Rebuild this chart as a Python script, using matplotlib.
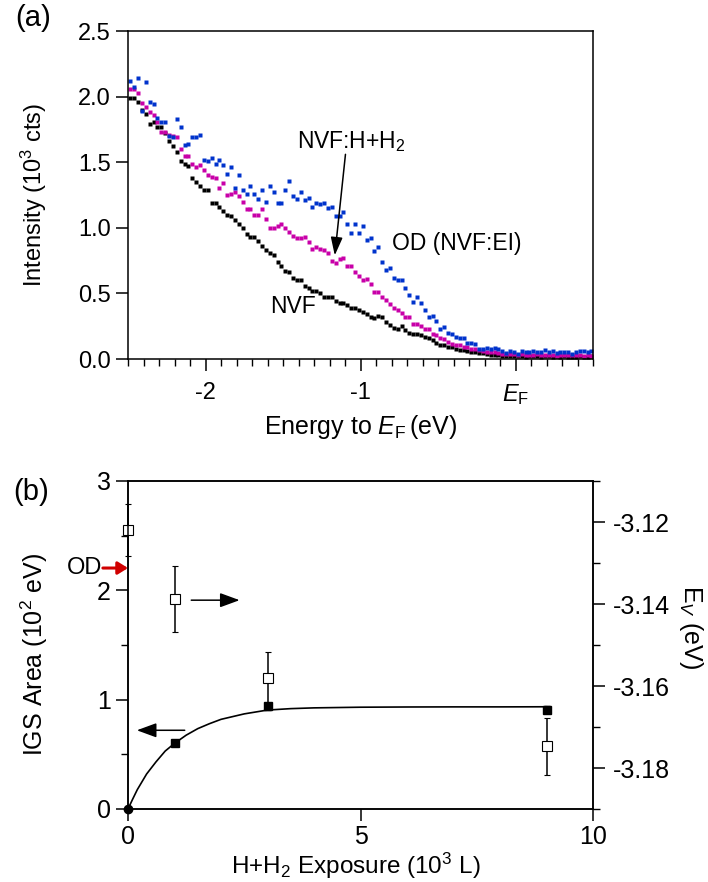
import matplotlib
matplotlib.use("Agg")
import matplotlib.pyplot as plt
from matplotlib.ticker import MultipleLocator

# ---- panel (a): photoemission spectra, energy relative to E_F (eV), intensity (10^3 cts)
energy = [
    -2.485, -2.460, -2.435, -2.410, -2.385, -2.360, -2.335, -2.310, -2.285, -2.260,
    -2.235, -2.210, -2.185, -2.160, -2.135, -2.110, -2.085, -2.060, -2.035, -2.010,
    -1.985, -1.960, -1.935, -1.910, -1.885, -1.860, -1.835, -1.810, -1.785, -1.760,
    -1.735, -1.710, -1.685, -1.660, -1.635, -1.610, -1.585, -1.560, -1.535, -1.510,
    -1.485, -1.460, -1.435, -1.410, -1.385, -1.360, -1.335, -1.310, -1.285, -1.260,
    -1.235, -1.210, -1.185, -1.160, -1.135, -1.110, -1.085, -1.060, -1.035, -1.010,
    -0.985, -0.960, -0.935, -0.910, -0.885, -0.860, -0.835, -0.810, -0.785, -0.760,
    -0.735, -0.710, -0.685, -0.660, -0.635, -0.610, -0.585, -0.560, -0.535, -0.510,
    -0.485, -0.460, -0.435, -0.410, -0.385, -0.360, -0.335, -0.310, -0.285, -0.260,
    -0.235, -0.210, -0.185, -0.160, -0.135, -0.110, -0.085, -0.060, -0.035, -0.010,
    0.015, 0.040, 0.065, 0.090, 0.115, 0.140, 0.165, 0.190, 0.215, 0.240,
    0.265, 0.290, 0.315, 0.340, 0.365, 0.390, 0.415, 0.440, 0.465, 0.490,
]

nvf = [
    1.99, 1.99, 1.96, 1.90, 1.87, 1.79, 1.81, 1.77, 1.77, 1.72,
    1.66, 1.62, 1.58, 1.51, 1.49, 1.47, 1.38, 1.35, 1.32, 1.29,
    1.29, 1.19, 1.19, 1.16, 1.13, 1.10, 1.09, 1.06, 1.03, 1.00,
    0.95, 0.93, 0.93, 0.90, 0.86, 0.83, 0.81, 0.79, 0.74, 0.71,
    0.67, 0.66, 0.62, 0.60, 0.60, 0.56, 0.54, 0.52, 0.52, 0.50,
    0.47, 0.47, 0.47, 0.44, 0.43, 0.43, 0.41, 0.39, 0.39, 0.37,
    0.36, 0.34, 0.32, 0.31, 0.33, 0.32, 0.28, 0.26, 0.24, 0.23,
    0.25, 0.22, 0.20, 0.19, 0.19, 0.18, 0.17, 0.16, 0.145, 0.12,
    0.11, 0.105, 0.094, 0.089, 0.075, 0.065, 0.072, 0.062, 0.055, 0.05,
    0.043, 0.043, 0.037, 0.033, 0.031, 0.03, 0.02, 0.024, 0.025, 0.022,
    0.02, 0.025, 0.018, 0.022, 0.02, 0.023, 0.018, 0.02, 0.022, 0.017,
    0.02, 0.015, 0.02, 0.018, 0.012, 0.015, 0.02, 0.015, 0.018, 0.02,
]

nvf_h = [
    2.06, 2.06, 2.03, 1.95, 1.92, 1.88, 1.86, 1.81, 1.73, 1.73,
    1.71, 1.70, 1.69, 1.60, 1.55, 1.55, 1.49, 1.46, 1.48, 1.44,
    1.40, 1.39, 1.38, 1.30, 1.34, 1.25, 1.26, 1.27, 1.24, 1.20,
    1.14, 1.14, 1.10, 1.10, 1.14, 1.07, 1.00, 0.995, 1.01, 1.03,
    1.00, 0.97, 0.94, 0.92, 0.92, 0.93, 0.89, 0.84, 0.85, 0.84,
    0.83, 0.81, 0.75, 0.73, 0.76, 0.77, 0.71, 0.71, 0.66, 0.63,
    0.60, 0.61, 0.57, 0.51, 0.51, 0.47, 0.45, 0.42, 0.39, 0.37,
    0.35, 0.32, 0.32, 0.27, 0.27, 0.25, 0.23, 0.23, 0.19, 0.18,
    0.16, 0.15, 0.13, 0.115, 0.107, 0.105, 0.094, 0.089, 0.08, 0.073,
    0.069, 0.061, 0.056, 0.053, 0.05, 0.043, 0.04, 0.04, 0.035, 0.038,
    0.03, 0.035, 0.028, 0.032, 0.03, 0.035, 0.028, 0.03, 0.033, 0.03,
    0.025, 0.03, 0.028, 0.032, 0.03, 0.028, 0.03, 0.025, 0.028, 0.02,
]

od = [
    2.12, 2.07, 2.14, 1.89, 2.11, 1.96, 1.94, 1.84, 1.81, 1.81,
    1.70, 1.69, 1.83, 1.77, 1.63, 1.64, 1.69, 1.69, 1.71, 1.52,
    1.51, 1.53, 1.49, 1.52, 1.48, 1.41, 1.46, 1.30, 1.40, 1.29,
    1.26, 1.32, 1.26, 1.22, 1.29, 1.20, 1.32, 1.27, 1.19, 1.19,
    1.29, 1.36, 1.24, 1.22, 1.27, 1.21, 1.23, 1.16, 1.19, 1.18,
    1.19, 1.15, 1.155, 1.09, 1.09, 1.12, 1.03, 0.96, 1.03, 0.96,
    1.01, 0.91, 0.92, 0.82, 0.85, 0.74, 0.68, 0.69, 0.62, 0.60,
    0.60, 0.54, 0.49, 0.435, 0.47, 0.43, 0.37, 0.32, 0.33, 0.29,
    0.23, 0.247, 0.20, 0.19, 0.165, 0.16, 0.163, 0.12, 0.125, 0.115,
    0.08, 0.08, 0.084, 0.08, 0.084, 0.08, 0.064, 0.048, 0.064, 0.053,
    0.035, 0.06, 0.055, 0.05, 0.06, 0.055, 0.05, 0.065, 0.055, 0.06,
    0.045, 0.055, 0.055, 0.05, 0.04, 0.05, 0.06, 0.06, 0.055, 0.06,
]

# ---- panel (b): IGS area (left axis) and E_V (right axis) vs exposure (10^3 L)
exposure = [0, 1, 3, 9]
igs_area = [0.0, 0.60, 0.94, 0.91]
igs_err = [0.0, 0.02, 0.03, 0.03]
ev = [-3.1219, -3.1388, -3.1580, -3.1747]
ev_err = [0.0064, 0.0080, 0.0063, 0.0069]

# saturating fit curve
fit_x = [0, 0.1, 0.2, 0.4, 0.6, 0.8, 1.0, 1.25, 1.5, 1.75, 2.0, 2.5, 3.0, 3.5, 4.0, 5.0, 6.0, 7.0, 8.0, 9.0]
fit_y = [0, 0.09, 0.177, 0.32, 0.43, 0.53, 0.60, 0.675, 0.735, 0.78, 0.82, 0.87, 0.905, 0.918, 0.925, 0.931, 0.933, 0.934, 0.934, 0.935]

OD_LEVEL = 2.204

plt.rcParams['font.family'] = ['Liberation Sans', 'DejaVu Sans']
plt.rcParams['mathtext.fontset'] = 'custom'
plt.rcParams['mathtext.rm'] = 'Liberation Sans'
plt.rcParams['mathtext.it'] = 'Liberation Sans:italic'
plt.rcParams['mathtext.bf'] = 'Liberation Sans:bold'
plt.rcParams['axes.linewidth'] = 1.1

FS_A = 17
FS_B = 18
FS_TXT = 16.5

fig = plt.figure(figsize=(7.08, 8.82), dpi=100)
W, H = 708.0, 882.0
ax_a = fig.add_axes([128 / W, 1 - 359 / H, 465 / W, 328 / H])
ax_b = fig.add_axes([128 / W, 1 - 809 / H, 465 / W, 328 / H])

# ---------------- (a)
for vals, col in [(nvf, 'black'), (nvf_h, '#c800a8'), (od, '#0033cc')]:
    ax_a.plot(energy, vals, ls='none', marker='s', ms=3.2, mfc=col, mec='none')

ax_a.set_xlim(-2.5, 0.5)
ax_a.set_ylim(0, 2.5)
ax_a.set_xticks([-2, -1, 0])
ax_a.set_xticklabels(['-2', '-1', r'$\mathit{E}_\mathrm{F}$'])
ax_a.xaxis.set_minor_locator(MultipleLocator(0.1))
ax_a.set_yticks([0, 0.5, 1.0, 1.5, 2.0, 2.5])
ax_a.set_yticklabels(['0.0', '0.5', '1.0', '1.5', '2.0', '2.5'])
ax_a.tick_params(which='major', direction='out', length=8.5, width=1.1, labelsize=FS_A, pad=4)
ax_a.tick_params(axis='x', which='major', pad=8)
ax_a.tick_params(which='minor', direction='out', length=5, width=1.0)
ax_a.tick_params(axis='y', which='minor', left=False)
ax_a.set_xlabel(r'Energy to $\mathit{E}_\mathrm{F}\,$(eV)', fontsize=FS_A + 1)
ax_a.set_ylabel(r'Intensity (10$^3$ cts)', fontsize=FS_A)
ax_a.yaxis.set_label_coords(-0.17, 0.5)
ax_a.xaxis.set_label_coords(0.5, -0.165)

ax_a.text(-1.435, 0.40, 'NVF', ha='center', va='center', fontsize=FS_TXT)
ax_a.text(-0.38, 0.88, 'OD (NVF:EI)', ha='center', va='center', fontsize=FS_TXT)
ax_a.text(-1.06, 1.66, r'NVF:H+H$_2$', ha='center', va='center', fontsize=FS_TXT)
ax_a.annotate('', xy=(-1.166, 0.79), xytext=(-1.097, 1.56),
              arrowprops=dict(arrowstyle='-|>,head_length=0.55,head_width=0.18',
                              mutation_scale=20, color='black', lw=1.1, shrinkA=0, shrinkB=0))

# ---------------- (b)
ax_b.plot(fit_x, fit_y, color='black', lw=1.2)
ax_b.errorbar(exposure[1:], igs_area[1:], yerr=igs_err[1:], fmt='s', ms=6, color='black',
              capsize=2.5, elinewidth=1.0, zorder=3)
ax_b.plot(exposure[:1], igs_area[:1], 'o', ms=6, color='black', clip_on=False, zorder=4)

ax_b.set_xlim(0, 10)
ax_b.set_ylim(0, 3)
ax_b.set_xticks([0, 5, 10])
ax_b.set_yticks([0, 1, 2, 3])
ax_b.yaxis.set_minor_locator(MultipleLocator(0.5))
ax_b.tick_params(which='major', direction='out', length=8.5, width=1.1, labelsize=FS_B, pad=4)
ax_b.tick_params(axis='x', pad=3)
ax_b.tick_params(axis='y', which='minor', direction='out', length=5, width=1.0)
ax_b.set_xlabel(r'H+H$_2$ Exposure (10$^3$ L)', fontsize=17.5)
ax_b.set_ylabel(r'IGS Area (10$^2$ eV)', fontsize=FS_B)
ax_b.yaxis.set_label_coords(-0.168, 0.47)
ax_b.xaxis.set_label_coords(0.49, -0.126)

ax_r = ax_b.twinx()
ax_r.errorbar(exposure, ev, yerr=ev_err, fmt='s', ms=6.5, mfc='white', mec='black', mew=0.8,
              ecolor='black', capsize=2.5, elinewidth=1.1, clip_on=False)
ax_r.set_ylim(-3.19, -3.11)
ax_r.set_yticks([-3.18, -3.16, -3.14, -3.12])
ax_r.set_yticklabels(['-3.18', '-3.16', '-3.14', '-3.12'])
ax_r.yaxis.set_minor_locator(MultipleLocator(0.01))
ax_r.tick_params(which='major', direction='out', length=8.5, width=1.1, labelsize=FS_B, pad=6)
ax_r.tick_params(which='minor', direction='out', length=5, width=1.0)
ax_r.set_ylabel(r'E$_V$ (eV)', fontsize=FS_B, rotation=-90, va='center')
ax_r.yaxis.set_label_coords(1.21, 0.555)

arrow_kw = dict(arrowstyle='-|>,head_length=0.6,head_width=0.22', mutation_scale=20,
                color='black', lw=1.1, shrinkA=0, shrinkB=0)
ax_b.annotate('', xy=(2.40, 1.91), xytext=(1.36, 1.91), arrowprops=arrow_kw)
ax_b.annotate('', xy=(0.19, 0.72), xytext=(1.22, 0.72), arrowprops=arrow_kw)

ax_b.annotate('', xy=(0, OD_LEVEL), xytext=(-0.54, OD_LEVEL), annotation_clip=False,
              arrowprops=dict(arrowstyle='-|>,head_length=0.4,head_width=0.25', mutation_scale=15,
                              color='#d00000', lw=2.2, shrinkA=0, shrinkB=0))
ax_b.text(-0.56, OD_LEVEL, 'OD', ha='right', va='center', fontsize=17)

fig.text(33 / W, 1 - 18 / H, '(a)', ha='center', va='center', fontsize=21)
fig.text(31 / W, 1 - 492 / H, '(b)', ha='center', va='center', fontsize=21)

fig.savefig('out.png', dpi=100)
